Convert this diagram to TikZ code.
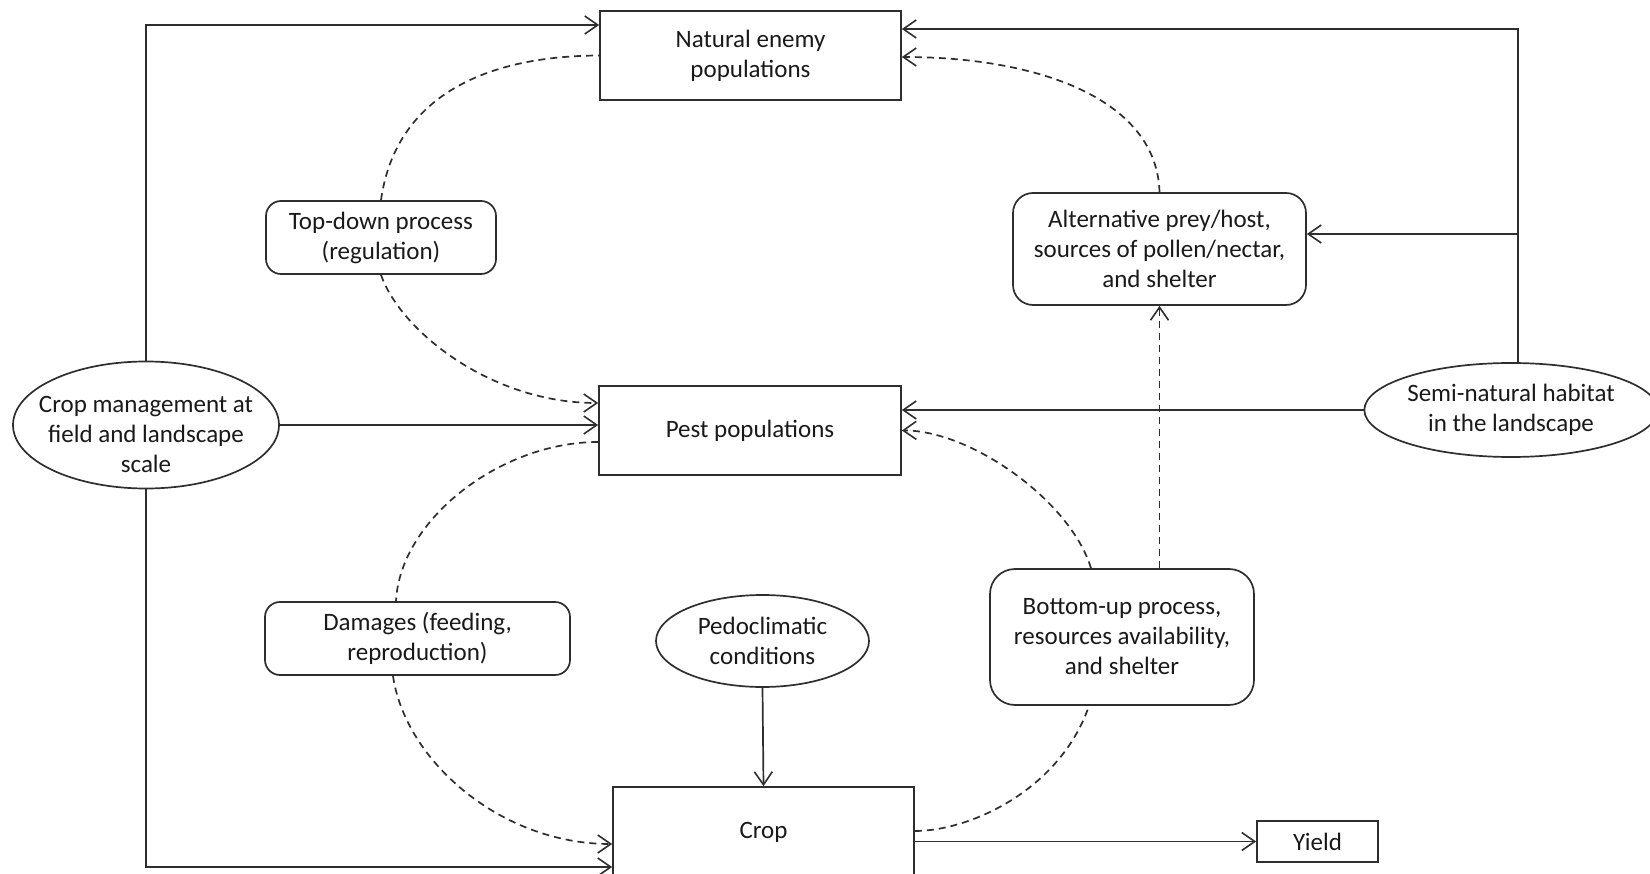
\documentclass[tikz,border=0pt]{standalone}
\usepackage{fontspec}
\setmainfont{Carlito}
\usetikzlibrary{arrows.meta,shapes.geometric}
\begin{document}
\begin{tikzpicture}[x=1pt,y=-1pt,
  font=\fontsize{25}{30}\selectfont,
  every node/.style={text=black!90, align=center, inner sep=0pt},
  sq/.style={draw=black!82, line width=1.7pt, rectangle},
  rbox/.style={draw=black!82, line width=1.7pt, rectangle, rounded corners=15pt},
  ell/.style={draw=black!82, line width=1.7pt, ellipse, inner sep=0pt},
  conn/.style={draw=black!82, line width=1.7pt, -{Straight Barb[length=13pt,width=18pt,line width=1.6pt]}},
  dconn/.style={conn, dash pattern=on 7pt off 5pt},
  dline/.style={draw=black!82, line width=1.7pt, dash pattern=on 7pt off 5pt},
]
\useasboundingbox (0,0) rectangle (1650,874);

% nodes
\node[sq, minimum width=301pt, minimum height=89pt] (ne) at (750.5,55.5) {Natural enemy\\populations};
\node[rbox, minimum width=230pt, minimum height=73pt] (td) at (381,237.5) {Top-down process\\(regulation)};
\node[rbox, rounded corners=20pt, minimum width=293pt, minimum height=112pt] (alt) at (1159.5,249) {Alternative prey/host,\\sources of pollen/nectar,\\and shelter};
\node[ell, minimum width=266pt, minimum height=127pt] (cm) at (146,425) {};
\node (cmt) at (146,434) {Crop management at\\field and landscape\\scale};
\node[sq, minimum width=302pt, minimum height=89pt] (pest) at (750,430.5) {Pest populations};
\node[ell, minimum width=274pt, minimum height=94pt] (semi) at (1511,410) {Semi-natural habitat\\in the landscape};
\node[rbox, minimum width=305pt, minimum height=73pt] (dmg) at (417.5,638.5) {Damages (feeding,\\reproduction)};
\node[ell, minimum width=213pt, minimum height=92pt] (pedo) at (762.5,641) {Pedoclimatic\\conditions};
\node[rbox, rounded corners=25pt, minimum width=264pt, minimum height=136pt] (bu) at (1122,637) {Bottom-up process,\\resources availability,\\and shelter};
\node[sq, minimum width=301pt, minimum height=90pt] (crop) at (763.5,832) {Crop};
\node[sq, minimum width=121pt, minimum height=41pt] (yield) at (1317.5,841.5) {Yield};

\coordinate (sj) at (1518,364);
\coordinate (j1) at (1518,234);

% solid connectors
\draw[conn] (cm.north) |- ([yshift=30.5pt]ne.west);
\draw[conn] (cm.east) -- (pest.west |- cm.east);
\draw[conn] (cm.south) |- ([yshift=-35pt]crop.west);
\draw[conn] (sj) |- ([yshift=26.5pt]ne.east);
\draw[conn] (j1) -- (alt.east |- j1);
\draw[conn] (semi.west) -- (pest.east |- semi.west);
\draw[conn] (pedo.south) -- (crop.north);
\draw[conn] ([yshift=-9.5pt]crop.east) -- (yield.west);

% dashed connectors
\draw[dline] (td.north) .. controls (395,100) and (480,56) .. (ne.west);
\draw[dconn] (td.south) .. controls (400,330) and (490,403) .. ([yshift=27.5pt]pest.west);
\draw[dline] ([yshift=-11.5pt]pest.west) .. controls (500,442) and (400,520) .. ([xshift=-21.5pt]dmg.north);
\draw[dconn] ([xshift=-24.5pt]dmg.south) .. controls (405,760) and (500,844) .. ([yshift=-12pt]crop.west);
\draw[dconn] (alt.north) .. controls (1157,100) and (1040,57) .. ([yshift=-1.5pt]ne.east);
\draw[dconn] ([xshift=-31pt]bu.north) .. controls (1070,500) and (970,430) .. (pest.east);
\draw[dline] ([yshift=1pt]crop.east) .. controls (970,831) and (1060,790) .. ([xshift=-33pt]bu.south);
\draw[dconn] (bu.north -| alt.south) -- (alt.south);
\end{tikzpicture}
\end{document}
